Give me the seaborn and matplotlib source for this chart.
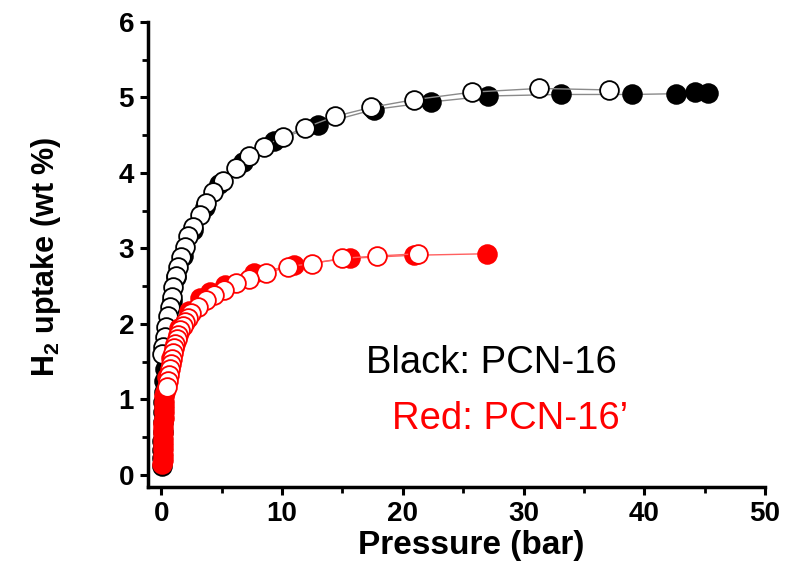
import numpy as np
import pandas as pd
import matplotlib
matplotlib.use("Agg")
import matplotlib.pyplot as plt
from matplotlib.ticker import MultipleLocator
import seaborn as sns

# PCN-16: adsorption (filled) and desorption (open) branches
pcn16_ads_p = [0.04, 0.06, 0.08, 0.10, 0.12, 0.14, 0.16, 0.18, 0.21, 0.25, 0.30, 0.36,
               0.55, 0.85, 1.25, 1.8, 2.6, 3.6, 4.8, 6.75, 9.35, 12.95, 17.6,
               22.3, 27.1, 33.1, 39.0, 42.6, 44.2, 45.3]
pcn16_ads_u = [0.12, 0.22, 0.33, 0.45, 0.57, 0.70, 0.83, 0.96, 1.10, 1.25, 1.40, 1.55,
               1.95, 2.30, 2.62, 2.90, 3.25, 3.55, 3.86, 4.15, 4.42, 4.64, 4.84,
               4.94, 5.02, 5.04, 5.04, 5.05, 5.07, 5.06]
pcn16_des_p = [37.1, 31.3, 25.7, 20.9, 17.4, 14.4, 11.9, 10.06, 8.5, 7.3, 6.2, 5.1,
               4.27, 3.7, 3.17, 2.6, 2.2, 1.93, 1.65, 1.38, 1.24, 1.0, 0.88, 0.69,
               0.55, 0.41, 0.28, 0.14, 0.08]
pcn16_des_u = [5.10, 5.12, 5.07, 4.97, 4.87, 4.75, 4.60, 4.48, 4.35, 4.22, 4.06, 3.89,
               3.75, 3.60, 3.44, 3.29, 3.16, 3.02, 2.89, 2.76, 2.63, 2.49, 2.36, 2.23,
               2.10, 1.96, 1.83, 1.70, 1.60]

# PCN-16': adsorption (filled) and desorption (open) branches
pcn16p_ads_p = [0.10, 0.11, 0.12, 0.13, 0.14, 0.15, 0.16, 0.17, 0.18, 0.19, 0.20, 0.21,
                0.22, 0.24, 0.27, 0.45, 0.8, 1.5, 2.3, 3.2, 4.0, 5.3, 7.7, 11.0,
                15.6, 20.9, 27.0]
pcn16p_ads_u = [0.14, 0.20, 0.27, 0.34, 0.41, 0.48, 0.55, 0.62, 0.69, 0.76, 0.83, 0.90,
                0.97, 1.04, 1.10, 1.30, 1.55, 1.95, 2.17, 2.34, 2.42, 2.52, 2.67, 2.78,
                2.87, 2.91, 2.93]
pcn16p_des_p = [21.3, 17.9, 15.0, 12.5, 10.5, 8.7, 7.3, 6.2, 5.2, 4.4, 3.7, 3.0, 2.48,
                2.2, 1.95, 1.76, 1.58, 1.42, 1.28, 1.16, 1.05, 0.95, 0.86, 0.78, 0.70,
                0.63, 0.56, 0.50]
pcn16p_des_u = [2.93, 2.90, 2.87, 2.80, 2.76, 2.67, 2.60, 2.54, 2.45, 2.38, 2.32, 2.23,
                2.14, 2.08, 2.03, 1.97, 1.92, 1.86, 1.80, 1.74, 1.68, 1.61, 1.54, 1.47,
                1.40, 1.32, 1.24, 1.16]

x_ticks = [0, 10, 20, 30, 40, 50]
y_ticks = [0, 1, 2, 3, 4, 5, 6]

sns.set_style("ticks")
plt.rcParams["font.family"] = ["Liberation Sans", "DejaVu Sans"]
plt.rcParams["mathtext.fontset"] = "custom"
plt.rcParams["mathtext.bf"] = "Liberation Sans:bold"
plt.rcParams["mathtext.rm"] = "Liberation Sans"

fig = plt.figure(figsize=(7.96, 5.70), dpi=100)
ax = fig.add_axes([148 / 796, 83 / 570, 617 / 796, 465 / 570])

ms = 13.5
series = [
    (pcn16_ads_p, pcn16_ads_u, "#8a8a8a", "black", "black"),
    (pcn16_des_p, pcn16_des_u, "#8a8a8a", "white", "black"),
    (pcn16p_ads_p, pcn16p_ads_u, "#ff6060", "#ff0000", "#ff0000"),
    (pcn16p_des_p, pcn16p_des_u, "#ff6060", "white", "#ff0000"),
]
for p, u, lc, fc, ec in series:
    df = pd.DataFrame({"p": p, "u": u})
    sns.lineplot(data=df, x="p", y="u", ax=ax, sort=False, estimator=None,
                 color=lc, linewidth=1.0, marker="o", markersize=ms,
                 markerfacecolor=fc, markeredgecolor=ec, markeredgewidth=1.3)

ax.set_xlim(-1.1, 50)
ax.set_ylim(-0.16, 6)
ax.set_xticks(x_ticks)
ax.set_yticks(y_ticks)
ax.xaxis.set_minor_locator(MultipleLocator(5))
ax.yaxis.set_minor_locator(MultipleLocator(0.5))
ax.tick_params(which="major", direction="out", length=6, width=2.2,
               labelsize=20, pad=4, colors="black")
ax.tick_params(which="minor", direction="out", length=4, width=2.0, colors="black")
for lbl in ax.get_xticklabels() + ax.get_yticklabels():
    lbl.set_fontweight("bold")

for side in ("top", "right"):
    ax.spines[side].set_visible(False)
for side in ("left", "bottom"):
    ax.spines[side].set_linewidth(2.5)
    ax.spines[side].set_color("black")

ax.set_xlabel("Pressure (bar)", fontsize=24, fontweight="bold", color="black")
ax.set_ylabel(r"H$_\mathbf{2}$ uptake (wt %)", fontsize=22, fontweight="bold",
              color="black")
ax.xaxis.set_label_coords(0.524, -0.092)
ax.yaxis.set_label_coords(-0.138, 0.495)

ax.text(0.353, 0.245, "Black: PCN-16", transform=ax.transAxes, fontsize=27.5,
        color="black", va="baseline")
ax.text(0.396, 0.125, "Red: PCN-16\u2019", transform=ax.transAxes, fontsize=27.5,
        color="#ff0000", va="baseline")

fig.savefig("out.png", dpi=100)
